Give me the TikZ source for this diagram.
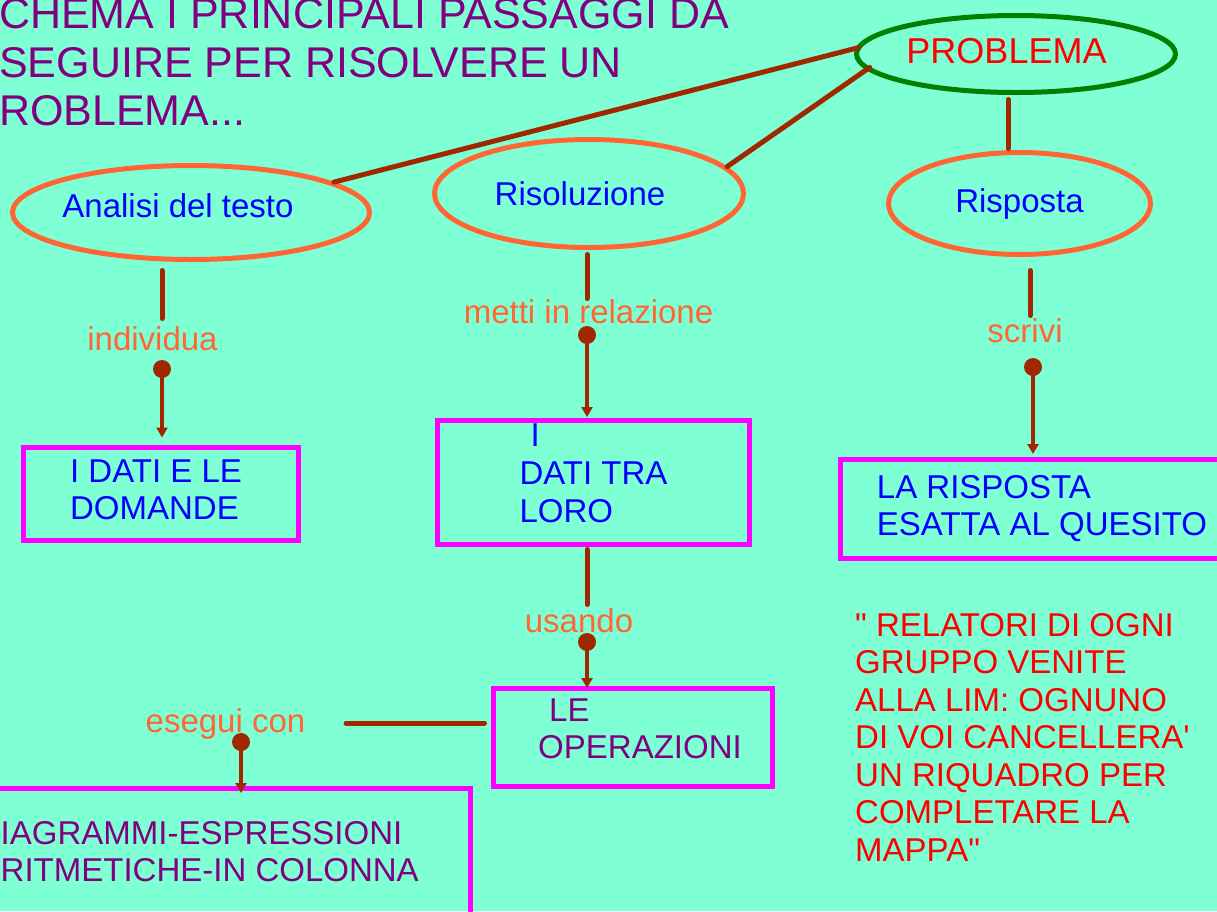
\documentclass[tikz,border=0pt]{standalone}
\usepackage{fontspec}
\setmainfont{Liberation Sans}[Ligatures=TeXOff]
\usetikzlibrary{arrows.meta,shapes.geometric,calc}
\definecolor{aq}{RGB}{127,255,212}
\definecolor{brn}{RGB}{160,40,0}
\definecolor{org}{RGB}{255,102,51}
\definecolor{grn}{RGB}{0,128,0}
\definecolor{mag}{RGB}{255,0,255}
\definecolor{pur}{RGB}{128,0,128}
\definecolor{blu}{RGB}{0,0,255}
\definecolor{rd}{RGB}{255,0,0}
\begin{document}
\begin{tikzpicture}[x=1pt,y=-1pt,
  ell/.style={ellipse,draw=org,line width=5pt,inner sep=0pt,text=blu,font=\fontsize{33}{37}\selectfont},
  bx/.style={rectangle,draw=mag,line width=5pt,inner sep=0pt,align=left,font=\fontsize{33}{37}\selectfont},
  lbl/.style={text=org,inner sep=0pt,font=\fontsize{33}{37}\selectfont},
  dotn/.style={circle,fill=brn,minimum size=18pt,inner sep=0pt},
  seg/.style={draw=brn,line width=5pt,line cap=round},
  arr/.style={draw=brn,line width=3.5pt,-{Triangle[length=10pt,width=11pt]}},
]
\clip (0,0) rectangle (1217,911);
\fill[aq] (0,0) rectangle (1217,911);

% title
\node[text=pur,anchor=north west,inner sep=0pt,align=left,font=\fontsize{43}{48.5}\selectfont] (title) at (-1,-1.5)
  {CHEMA I PRINCIPALI PASSAGGI DA\\SEGUIRE PER RISOLVERE UN\\ROBLEMA...};

% ellipses
\node[ell,draw=grn,text=rd,font=\fontsize{36}{40}\selectfont,minimum width=319pt,minimum height=77pt] (prob) at (1016,54)
  {\hspace*{-19pt}PROBLEMA\rule[-6.6pt]{0pt}{0pt}};
\node[ell,minimum width=357pt,minimum height=94pt] (an) at (191,212.5)
  {\hspace*{-26pt}Analisi del testo\rule[-13pt]{0pt}{0pt}};
\node[ell,minimum width=309pt,minimum height=108pt] (ris) at (589,193.5)
  {\hspace*{-18pt}Risoluzione};
\node[ell,minimum width=262pt,minimum height=102pt] (rsp) at (1019.5,203.5) {Risposta};

% boxes
\node[bx,text=blu,minimum width=275pt,minimum height=93pt] (b1) at (160.5,493.5)
  {I DATI E LE\hspace*{9pt}\\DOMANDE\rule[-8pt]{0pt}{0pt}};
\node[bx,text=blu,font=\fontsize{33}{38}\selectfont,minimum width=312pt,minimum height=124pt] (b2) at (593.5,482.5)
  {\hspace*{11pt}I\\DATI TRA\hspace*{-7pt}\\LORO\rule[-19pt]{0pt}{0pt}};
\node[bx,text=pur,minimum width=279pt,minimum height=98pt] (ops) at (633,737.5)
  {\hspace*{11pt}LE\\OPERAZIONI\hspace*{-14pt}\rule[-18pt]{0pt}{0pt}};
\node[bx,text=blu,minimum width=402.5pt,minimum height=99pt] (b4) at (1042,509)
  {LA RISPOSTA\\ESATTA AL QUESITO\rule[-5pt]{0pt}{0pt}};
\node[bx,text=pur,minimum width=521.5pt,minimum height=128.5pt] (b5) at (209.75,852.75)
  {IAGRAMMI-ESPRESSIONI\\RITMETICHE-IN COLONNA\rule[-2.5pt]{0pt}{0pt}};

% link labels
\node[lbl,anchor=base] (lab1) at (152.5,350) {individua};
\node[lbl,anchor=base] (lab2) at (588.5,323) {metti in relazione};
\node[lbl,anchor=base] (lab3) at (579,632) {usando};
\node[lbl,anchor=base] (lab4) at (1025,342) {scrivi};
\node[lbl,anchor=base] (lab5) at (225.5,732) {esegui con};

% dots
\node[dotn] (d1) at (162,369) {};
\node[dotn] (d2) at (587,335) {};
\node[dotn] (d3) at (587,642) {};
\node[dotn] (d4) at (1033,367) {};
\node[dotn] (d5) at (241,742) {};

% connectors
\draw[seg,shorten <=-3pt] (prob.178) -- (an.12);
\draw[seg,shorten <=-4pt] (prob.186) -- (ris.11);
\draw[seg,shorten <=4.5pt,shorten >=1.5pt] ([xshift=-8pt]prob.south) -- ([xshift=-11.5pt]rsp.north);

\draw[seg,shorten <=8.5pt,shorten >=50.5pt] (an.south -| d1.center) -- (d1.center);
\draw[seg,shorten <=4.5pt,shorten >=36.5pt] (ris.south -| d2.center) -- (d2.center);
\draw[seg,shorten <=2.5pt,shorten >=37.5pt] (b2.south -| d3.center) -- (d3.center);
\draw[seg,shorten <=13.5pt,shorten >=51.5pt] ([xshift=-3pt]rsp.south -| d4.center) -- ([xshift=-3pt]d4.center);
\draw[seg,shorten <=6.5pt,shorten >=40.5pt] ([yshift=14.5pt]ops.west) -- ([yshift=14.5pt]ops.west -| lab5.east);

\draw[arr,shorten >=7pt] (d1.center) -- (d1.center |- b1.north);
\draw[arr,shorten >=1pt] (d2.center) -- (d2.center |- b2.north);
\draw[arr,shorten >=-2pt] (d3.center) -- (d3.center |- ops.north);
\draw[arr,shorten >=3pt] (d4.center) -- (d4.center |- b4.north);
\draw[arr,shorten >=-7pt] (d5.center) -- (d5.center |- b5.north);

% note
\node[text=rd,anchor=north west,inner sep=0pt,align=left,font=\fontsize{33}{37.5}\selectfont] (note) at (855,613)
  {" RELATORI DI OGNI\\GRUPPO VENITE\\ALLA LIM: OGNUNO\\DI VOI CANCELLERA'\\UN RIQUADRO PER\\COMPLETARE LA\\MAPPA"};
\end{tikzpicture}
\end{document}
